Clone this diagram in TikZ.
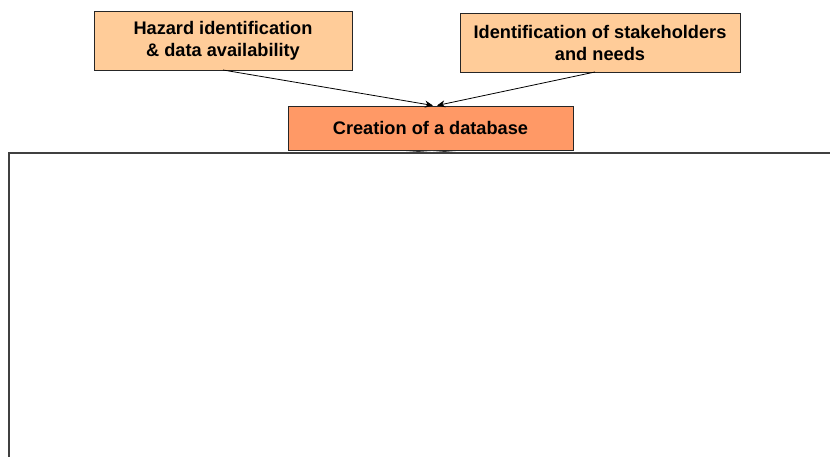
\documentclass[tikz,border=0pt]{standalone}
\usepackage{fontspec}
\setmainfont{Liberation Sans}
\usetikzlibrary{arrows.meta}
\definecolor{lightor}{HTML}{FFCC99}
\definecolor{darkor}{HTML}{FF9966}
\begin{document}
\begin{tikzpicture}[x=1pt,y=-1pt,
  box/.style={draw=black!85, line width=0.9pt, inner sep=0pt, font=\bfseries\fontsize{18.2}{22}\selectfont, align=center},
  conn/.style={draw=black, line width=0.8pt, -{Stealth[length=8pt,width=7pt]}}]
\useasboundingbox (0,0) rectangle (830,457);
\node[box, fill=lightor, minimum width=258pt, minimum height=59pt] (haz) at (223,40.5) {Hazard identification\\\& data availability};
\node[box, fill=lightor, minimum width=280pt, minimum height=59pt] (stk) at (600,42.5) {Identification of stakeholders\\and needs};
\node[box, fill=darkor, minimum width=285pt, minimum height=44pt] (db) at (430.5,128) {Creation of a database};
\coordinate (t1) at (433,105.5);
\coordinate (t2) at (437,105.5);
\draw[conn] (223,70) -- (t1);
\draw[conn] (595,72) -- (t2);
\coordinate (bl) at (398,153);
\coordinate (br) at (463,153);
\draw[black!80, line width=0.8pt] (bl) -- (432,150.5) -- (br);
\draw[black!75, line width=1.5pt] (9,457) -- (9,153) -- (830,153);
\end{tikzpicture}
\end{document}
